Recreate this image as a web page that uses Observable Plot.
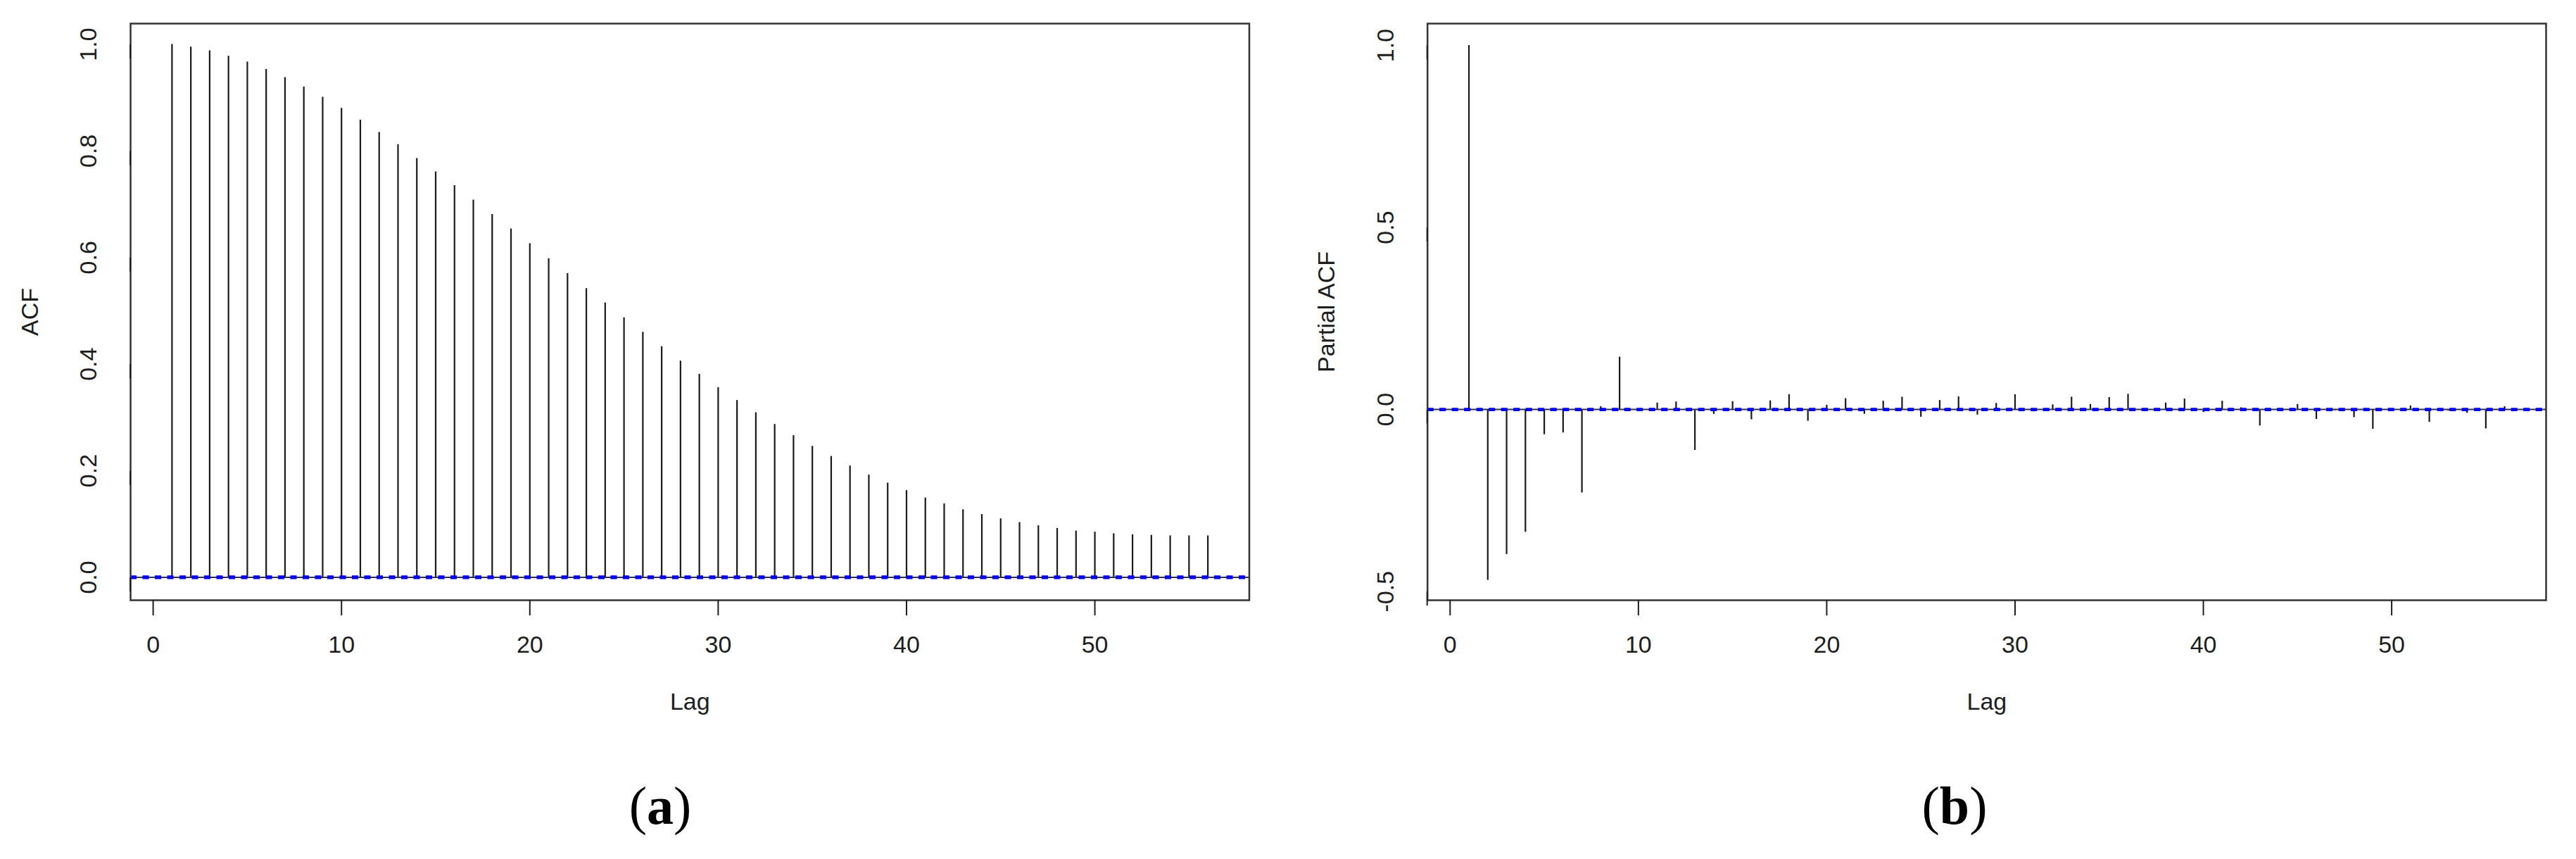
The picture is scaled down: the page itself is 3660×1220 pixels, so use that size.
<!DOCTYPE html>
<html>
<head>
<meta charset="utf-8">
<script src="https://cdn.jsdelivr.net/npm/d3@7"></script>
<script src="https://cdn.jsdelivr.net/npm/@observablehq/plot@0.6"></script>
<style>
  html, body { margin: 0; padding: 0; background: #fff; width: 3660px; height: 1220px; overflow: hidden; }
  #wrap { position: relative; width: 3660px; height: 1220px; }
  .panel { position: absolute; top: 0; }
  .cap { position: absolute; top: 1106px; font-family: "Liberation Serif", "DejaVu Serif", serif; font-size: 76px; line-height: 1; color: #000; transform: translateX(-50%); white-space: nowrap; }
  .cap b { font-weight: bold; }
</style>
</head>
<body>
<div id="wrap">
  <div class="panel" id="pa" style="left:0px"></div>
  <div class="panel" id="pb" style="left:1830px"></div>
  <div class="cap" style="left:938px">(<b>a</b>)</div>
  <div class="cap" style="left:2777px">(<b>b</b>)</div>
</div>
<script>
// ---- data ----
const lags = [1,2,3,4,5,6,7,8,9,10,11,12,13,14,15,16,17,18,19,20,
  21,22,23,24,25,26,27,28,29,30,31,32,33,34,35,36,37,38,39,40,
  41,42,43,44,45,46,47,48,49,50,51,52,53,54,55,56];

const acfValues = [1.000,0.995,0.988,0.978,0.967,0.953,0.938,0.920,0.901,0.880,
  0.858,0.835,0.812,0.786,0.761,0.735,0.708,0.681,0.654,0.626,
  0.598,0.570,0.542,0.515,0.487,0.460,0.433,0.406,0.381,0.356,
  0.332,0.309,0.287,0.266,0.246,0.227,0.209,0.192,0.177,0.163,
  0.149,0.138,0.127,0.118,0.110,0.103,0.097,0.092,0.087,0.085,
  0.082,0.080,0.079,0.078,0.078,0.078];

const pacfValues = [1.000,-0.469,-0.398,-0.337,-0.069,-0.064,-0.229,0.008,0.144,0.002,
  0.018,0.021,-0.112,-0.013,0.022,-0.028,0.024,0.041,-0.032,0.012,
  0.030,-0.013,0.023,0.034,-0.021,0.025,0.035,-0.015,0.017,0.041,
  -0.006,0.013,0.034,0.014,0.033,0.042,-0.005,0.018,0.029,-0.008,
  0.023,0.005,-0.045,-0.005,0.014,-0.027,-0.003,-0.022,-0.054,-0.005,
  0.010,-0.035,-0.004,-0.010,-0.053,0.008];

const xTicks = [0,10,20,30,40,50];
const acfTicks = [0.0,0.2,0.4,0.6,0.8,1.0];
const pacfTicks = [-0.5,0.0,0.5,1.0];
const ciBound = 0.0012;
const xLabel = "Lag";
const acfLabel = "ACF";
const pacfLabel = "Partial ACF";

// ---- chart ----
function panel({values, yDomain, yTicks, yLabel, marginLeft, marginRight}) {
  const data = lags.map((lag, i) => ({lag, value: values[i]}));
  return Plot.plot({
    width: 1830,
    height: 1040,
    marginTop: 33,
    marginBottom: 188,
    marginLeft,
    marginRight,
    style: {fontFamily: '"Liberation Sans", Arial, Helvetica, sans-serif', fontSize: "34px", color: "#1e1e1e", background: "white", overflow: "visible"},
    x: {domain: [-1.2, 58.2], axis: null},
    y: {domain: yDomain, axis: null},
    marks: [
      Plot.ruleX(data, {x: "lag", y1: 0, y2: "value", stroke: "#1a1a1a", strokeWidth: 2.2}),
      Plot.ruleY([0], {stroke: "#333", strokeWidth: 2}),
      Plot.ruleY([ciBound, -ciBound], {stroke: "#0000ff", strokeWidth: 3.5, strokeDasharray: "9,8.5"}),
      Plot.frame({stroke: "#333", strokeWidth: 2.5}),
      Plot.axisX({ticks: xTicks, tickSize: 22, tickPadding: 28, tickFormat: d => String(d), strokeWidth: 2, label: null}),
      Plot.axisY({ticks: yTicks, tickSize: 20, tickPadding: 28.5, tickFormat: d => d.toFixed(1), rotate: -90, textAnchor: "middle", lineAnchor: "bottom", strokeWidth: 2, label: null}),
      Plot.text([yLabel], {text: d => d, frameAnchor: "left", dx: -132, rotate: -90, textAnchor: "middle", lineAnchor: "bottom"}),
      Plot.text([xLabel], {text: d => d, frameAnchor: "bottom", dy: 155, lineAnchor: "bottom"})
    ]
  });
}

document.getElementById("pa").append(panel({
  values: acfValues, yDomain: [-0.043, 1.039], yTicks: acfTicks, yLabel: acfLabel,
  marginLeft: 185, marginRight: 55.5
}));
document.getElementById("pb").append(panel({
  values: pacfValues, yDomain: [-0.524, 1.060], yTicks: pacfTicks, yLabel: pacfLabel,
  marginLeft: 197.7, marginRight: 43
}));
</script>
</body>
</html>
